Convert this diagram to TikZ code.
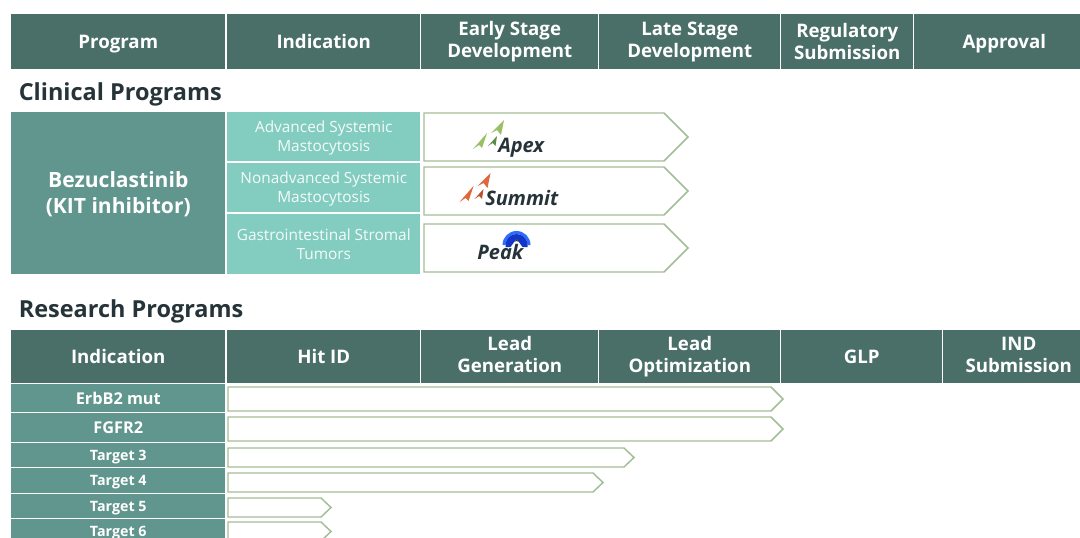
\documentclass[tikz,border=0pt]{standalone}
\usepackage{fontspec}
\setmainfont{Open Sans}
\definecolor{hdrgreen}{HTML}{4A6F69}
\definecolor{tealdark}{HTML}{60968D}
\definecolor{teallight}{HTML}{82CDC0}
\definecolor{arrowline}{HTML}{A3BE96}
\definecolor{inkdark}{HTML}{26343A}
\definecolor{apexlight}{HTML}{9AC065}
\definecolor{apexdark}{HTML}{5C8A4E}
\definecolor{summitlight}{HTML}{E0673C}
\definecolor{summitdark}{HTML}{B9502F}
\definecolor{peaklight}{HTML}{2F6BFF}
\definecolor{peakdark}{HTML}{1236C8}
\newcommand{\px}{0.75pt}
\newcommand{\one}[1]{\rule{0pt}{.72em}\smash{#1}}
\newcommand{\mls}{\rule[-.24em]{0pt}{1em}}
\newcommand{\two}[2]{\mls #1\\\mls #2}
\newcommand{\twolow}[2]{\rule{0pt}{.96em}#1\\\mls #2}
\tikzset{
  x=0.75pt,y=-0.75pt,
  cell/.style={anchor=north west,inner sep=0pt,align=center,text=white,font=\bfseries\fontsize{14}{16.6}\selectfont},
  hdrcell/.style={cell,fill=hdrgreen},
  heading/.style={anchor=west,inner sep=0pt,text=inkdark,font=\bfseries\fontsize{17.6}{20}\selectfont},
  labelcell/.style={cell,fill=tealdark,font=\bfseries\fontsize{12.2}{13}\selectfont},
  smallcell/.style={cell,fill=tealdark,font=\bfseries\fontsize{10.7}{11}\selectfont},
  indcell/.style={cell,fill=teallight,text=white!92!teallight,font=\fontsize{11.55}{14}\selectfont},
  progbar/.style={draw=arrowline,line width=1.1pt,fill=white,line join=miter},
  logotext/.style={inner sep=0pt,text=inkdark,font=\bfseries\itshape\fontsize{15}{16}\selectfont},
}
\newcommand{\cellat}[7]{\node[#1,minimum width=#4*\px,minimum height=#5*\px] (#2) at (#3) {#7};}
\newcommand{\barshape}[6]{% name, x0, x1, y0, y1, tipwidth
  \pgfmathsetmacro{\xa}{#3-#6}\pgfmathsetmacro{\ym}{(#4+#5)/2}
  \draw[progbar] (#2,#4) -- (\xa,#4) -- (#3,\ym) -- (\xa,#5) -- (#2,#5) -- cycle;
  \coordinate (#1) at (#2,\ym);}
\newcommand{\rockets}[3]{% shift, light, dark
  \begin{scope}[shift={(#1)}]
    \fill[#2] (504,120) -- (491,133) -- (497,130) -- (501,135) -- cycle;
    \fill[#2] (487,133) -- (473,149) -- (479,145) -- (482,148) -- cycle;
    \fill[#3] (497,136) -- (488,146) -- (492.5,143) -- (495.5,146) -- cycle;
  \end{scope}}
\begin{document}
\begin{tikzpicture}
\useasboundingbox (0,0) rectangle (1080,538);
\fill[white] (0,0) rectangle (1080,538);
% top header
\cellat{hdrcell}{h1}{11,14}{214}{55}{}{\one{Program}}
\cellat{hdrcell}{h2}{227,14}{193}{55}{}{\one{Indication}}
\cellat{hdrcell}{h3}{421,14}{177}{55}{}{\two{Early Stage}{Development}}
\cellat{hdrcell}{h4}{599,14}{181}{55}{}{\two{Late Stage}{Development}}
\cellat{hdrcell}{h5}{781,14}{132}{55}{}{\twolow{Regulatory}{Submission}}
\cellat{hdrcell}{h6}{914,14}{180}{55}{}{\one{Approval}}
\node[heading] (clin) at (18.5,94) {Clinical Programs};
% clinical
\cellat{cell,fill=tealdark,font=\bfseries\fontsize{15.8}{19.5}\selectfont}{bez}{11,112}{214}{162}{}{\twolow{Bezuclastinib}{(KIT inhibitor)}}
\cellat{indcell}{i1}{227,112}{193}{49}{}{\twolow{Advanced Systemic}{Mastocytosis}}
\cellat{indcell}{i2}{227,163}{193}{49}{}{\twolow{Nonadvanced Systemic}{Mastocytosis}}
\cellat{indcell}{i3}{227,214}{193}{60}{}{\twolow{Gastrointestinal Stromal}{Tumors}}
\barshape{b1}{424}{688}{113}{161}{24}
\barshape{b2}{424}{688}{167}{215}{24}
\barshape{b3}{424}{688}{224}{272}{24}
% logos
\rockets{0,0}{apexlight}{apexdark}
\node[logotext,anchor=west] (apex) at (498,148) {Apex};
\rockets{-13.5,53}{summitlight}{summitdark}
\node[logotext,anchor=west] (summit) at (485,198) {Summit};
\fill[peaklight] (502.5,245) arc[start angle=180,end angle=360,radius=14] -- (527.5,245) arc[start angle=360,end angle=180,radius=11] -- cycle;
\fill[peakdark] (505.5,247) -- (505.5,245) arc[start angle=180,end angle=360,radius=11] -- (527.5,247) -- cycle;
\fill[white] (510,248) -- (516.5,239) -- (523,248) -- cycle;
\fill[inkdark] (514.5,241.8) -- (516.5,239) -- (518.5,241.8) -- (516.5,241) -- cycle;
\node[logotext,anchor=west] (peak) at (477,252) {Peak};
\node[heading] (res) at (18.5,311) {Research Programs};
% second header
\cellat{hdrcell}{r1}{11,330}{214}{53}{}{\one{Indication}}
\cellat{hdrcell}{r2}{227,330}{193}{53}{}{\one{Hit ID}}
\cellat{hdrcell}{r3}{421,330}{177}{53}{}{\two{Lead}{Generation}}
\cellat{hdrcell}{r4}{599,330}{181}{53}{}{\two{Lead}{Optimization}}
\cellat{hdrcell}{r5}{781,330}{161}{53}{}{\one{GLP}}
\cellat{hdrcell}{r6}{943,330}{151}{53}{}{\two{IND}{Submission}}
% target rows
\cellat{labelcell}{t1}{11,384}{214}{28}{}{\one{ErbB2 mut}}
\cellat{labelcell}{t2}{11,413}{214}{29}{}{\one{FGFR2}}
\cellat{smallcell}{t3}{11,443}{214}{24}{}{\one{Target 3}}
\cellat{smallcell}{t4}{11,468}{214}{25}{}{\one{Target 4}}
\cellat{smallcell}{t5}{11,494}{214}{24}{}{\one{Target 5}}
\cellat{smallcell}{t6}{11,519}{214}{24}{}{\one{Target 6}}
\barshape{a1}{228}{783}{387}{411}{12}
\barshape{a2}{228}{783}{417}{441}{12}
\barshape{a3}{228}{634}{448}{467}{10}
\barshape{a4}{228}{603}{473}{492}{10}
\barshape{a5}{228}{331}{498}{517}{10}
\barshape{a6}{228}{331}{522}{541}{10}
\end{tikzpicture}
\end{document}
